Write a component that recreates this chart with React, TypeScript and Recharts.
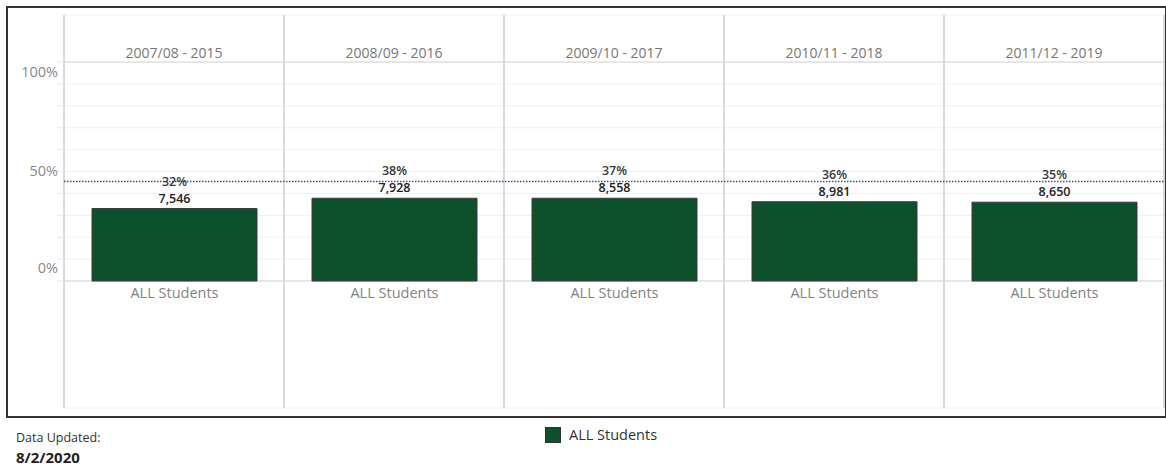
import React from "react";
import { BarChart, Bar, XAxis, YAxis, CartesianGrid, ReferenceLine, LabelList } from "recharts";

const periods = ["2007/08 - 2015", "2008/09 - 2016", "2009/10 - 2017", "2010/11 - 2018", "2011/12 - 2019"];
const groupName = "ALL Students";
const barPct = [33.1, 37.8, 37.8, 36.2, 36.0];
const labelPct = [32, 38, 37, 36, 35];
const countValues = [7546, 7928, 8558, 8981, 8650];
const targetPct = 45.5;
const yLabelTicks = [0, 50, 100];
const gridTicks = [0, 10, 20, 30, 40, 50, 60, 70, 80, 90, 100];
const majorGrid = [0, 100];
const panelEdges = [0, 1, 2, 3, 4, 5];

const data = periods.map((p, i) => ({
  period: p,
  group: groupName,
  pct: barPct[i],
  label: labelPct[i],
  count: countValues[i],
  pos: i + 0.5,
}));

const FONT = "'Open Sans', Lato, sans-serif";
const GREEN = "#0c512b";

const HeaderTick = (props: any) => {
  const { x, payload } = props;
  return (
    <text x={x} y={58} textAnchor="middle" fontSize={14} fill="#777" fontFamily={FONT}>
      {payload.value}
    </text>
  );
};

const YTick = (props: any) => {
  const { x, y, payload } = props;
  if (!yLabelTicks.includes(payload.value)) return <g />;
  const dy = payload.value === 100 ? 15 : payload.value === 0 ? -8 : 4;
  return (
    <text x={x + 1} y={y + dy} textAnchor="end" fontSize={14.5} fill="#8a8a8a" fontFamily={FONT}>
      {payload.value + "%"}
    </text>
  );
};

const TopLabel = (props: any) => {
  const { x, y, width, index } = props;
  const cx = x + width / 2;
  return (
    <g>
      <text x={cx} y={y - 23} textAnchor="middle" fontSize={12.5} fill="#3a3a3a" fontFamily={FONT} fontWeight={600}>
        {labelPct[index] + "%"}
      </text>
      <text x={cx} y={y - 6} textAnchor="middle" fontSize={12.5} fill="#222" fontFamily={FONT} fontWeight={600}>
        {countValues[index].toLocaleString("en-US")}
      </text>
    </g>
  );
};

const BottomLabel = (props: any) => {
  const { x, y, width, height } = props;
  return (
    <text x={x + width / 2} y={y + height + 17} textAnchor="middle" fontSize={14.5} fill="#858585" fontFamily={FONT}>
      {groupName}
    </text>
  );
};

export default function App() {
  return (
    <div style={{ position: "absolute", left: 0, top: 0, width: 1166, height: 469, background: "#fff", overflow: "hidden" }}>
      <div style={{ position: "absolute", left: 0, top: 0 }}>
        <BarChart width={1166} height={469} data={data} margin={{ top: 14, right: 2, bottom: 61, left: 8 }} barCategoryGap={0}>
          <XAxis xAxisId="cat" dataKey="period" orientation="top" height={1} axisLine={false} tickLine={false} tick={<HeaderTick />} interval={0} />
          <XAxis xAxisId="num" dataKey="pos" type="number" domain={[0, 5]} allowDataOverflow ticks={panelEdges} hide />
          <YAxis
            type="number"
            domain={[-58, 121.5]}
            allowDataOverflow
            ticks={gridTicks}
            width={56}
            axisLine={false}
            tickLine={{ stroke: "#e8e8e8" }}
            tickSize={7}
            tickMargin={0}
            tick={<YTick />}
            interval={0}
          />
          <CartesianGrid xAxisId="cat" vertical={false} stroke="#f0f0f0" strokeWidth={1} />
          <CartesianGrid xAxisId="cat" vertical={false} horizontalValues={majorGrid} stroke="#d6d6d6" strokeWidth={1} />
          <CartesianGrid xAxisId="num" horizontal={false} vertical stroke="#dadada" strokeWidth={2} />
          <Bar xAxisId="cat" dataKey="pct" fill={GREEN} stroke="#3a3a3a" strokeWidth={1} barSize={165} isAnimationActive={false}>
            <LabelList dataKey="label" content={<TopLabel />} />
            <LabelList dataKey="group" content={<BottomLabel />} />
          </Bar>
          <ReferenceLine xAxisId="cat" y={targetPct} stroke="#3d5590" strokeWidth={1.5} strokeDasharray="1.5 1.5" />
        </BarChart>
      </div>
      <div
        style={{
          position: "absolute",
          left: 6,
          top: 6,
          width: 1157,
          height: 408,
          border: "2px solid #333",
          pointerEvents: "none",
        }}
      />
      <div style={{ position: "absolute", left: 545, top: 427, display: "flex", alignItems: "center", fontFamily: FONT, fontSize: 14.5, color: "#333", lineHeight: "16px" }}>
        <span style={{ display: "inline-block", width: 14, height: 14, background: GREEN, border: "1px solid #333", marginRight: 8 }} />
        {groupName}
      </div>
      <div style={{ position: "absolute", left: 16, top: 431, fontFamily: FONT, fontSize: 12.5, color: "#333", lineHeight: "14px" }}>Data Updated:</div>
      <div style={{ position: "absolute", left: 16, top: 449, fontFamily: FONT, fontSize: 15, fontWeight: 700, color: "#222", lineHeight: "16px" }}>8/2/2020</div>
    </div>
  );
}
